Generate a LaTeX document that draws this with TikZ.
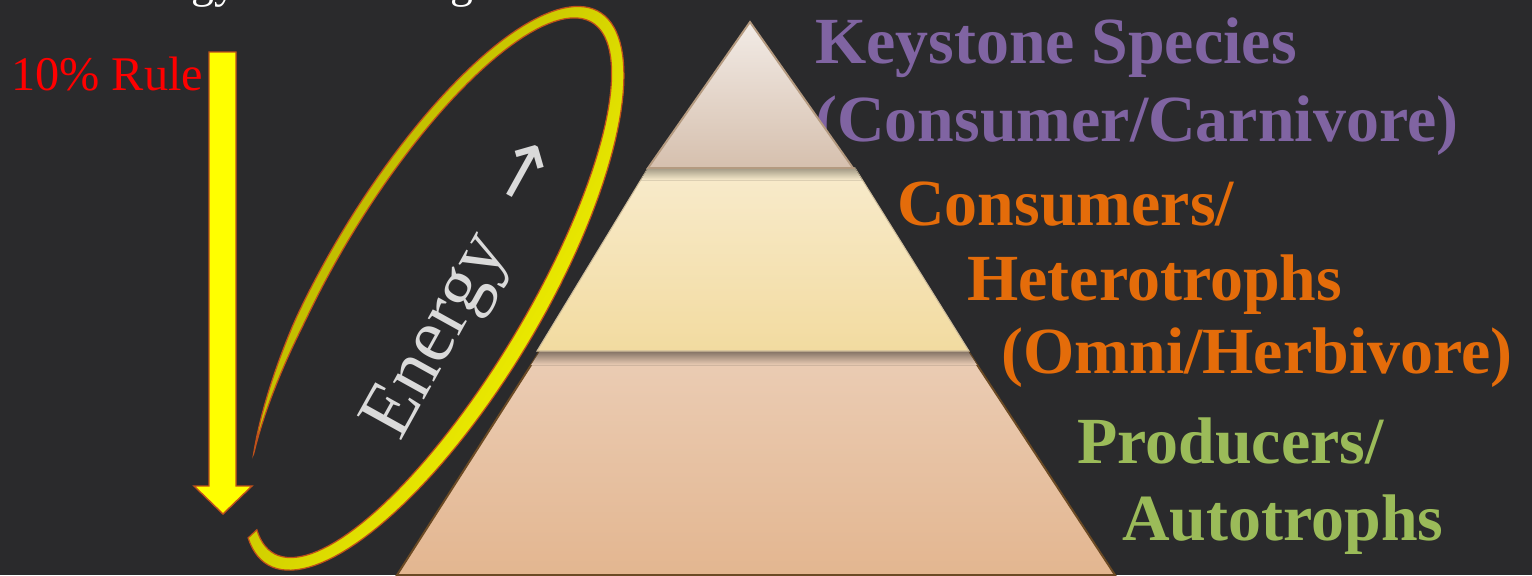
\documentclass[tikz,border=0pt]{standalone}
\usepackage{fontspec}
\setmainfont{Liberation Serif}
\newfontfamily\arrowfont{DejaVu Sans}
\definecolor{slatebg}{RGB}{42,42,44}
\definecolor{keypurple}{HTML}{8064A2}
\definecolor{heteroorange}{HTML}{E46C0A}
\definecolor{autogreen}{HTML}{9BBB59}
\definecolor{ruleedge}{HTML}{C0501A}
\definecolor{ringolive}{HTML}{ACA800}
\definecolor{ringyellow}{HTML}{FFFF00}
\definecolor{energygray}{HTML}{DADADA}
\tikzset{
  levelname/.style={anchor=base west, inner sep=0pt, font=\fontsize{37.5}{40}\selectfont\bfseries},
  keyname/.style={levelname, text=keypurple},
  heteroname/.style={levelname, text=heteroorange},
  autoname/.style={levelname, text=autogreen},
  toptier/.style={draw=tiertan, line width=1.1pt, top color=tiertopA, bottom color=tiertopB},
  midtier/.style={draw=tiermidedge, line width=0.6pt, top color=tiermidA, bottom color=tiermidB},
  basetier/.style={draw=tierbaseedge, line width=1.1pt, top color=tierbaseA, bottom color=tierbaseB},
  rulearrow/.style={fill=ringyellow, draw=ruleedge, line width=0.8pt, line join=miter},
  energyring/.style={top color=ringolive, bottom color=ringyellow, shading angle=59, draw=ruleedge, line width=0.7pt}
}
\definecolor{tiertan}{HTML}{B49A80}
\definecolor{tiertopA}{HTML}{F2EBE6}
\definecolor{tiertopB}{HTML}{D6C0AE}
\definecolor{tiermidedge}{HTML}{CDBB9A}
\definecolor{tiermidA}{HTML}{F8EBCC}
\definecolor{tiermidB}{HTML}{F2DBA0}
\definecolor{tierbaseedge}{HTML}{6B4A24}
\definecolor{tierbaseA}{HTML}{EBCDB5}
\definecolor{tierbaseB}{HTML}{E3B690}
\begin{document}
\begin{tikzpicture}[x=0.02cm,y=-0.02cm,
  declare function={ringw(\x)=(6.4+1.6*sin(\x))*min(1,(\x-222)/30);
    ringx(\x,\y)=433+0.515*(316+\y)*cos(\x)+0.857*(102+\y)*sin(\x);
    ringy(\x,\y)=288-0.857*(316+\y)*cos(\x)+0.515*(102+\y)*sin(\x);}]
  \useasboundingbox (0,0) rectangle (1532,575);
  \fill[slatebg] (0,0) rectangle (1532,575);
  \clip (0,0) rectangle (1532,575);
  \node[anchor=base west, inner sep=0pt, text=white, font=\fontsize{26}{28}\selectfont] (title) at (106,-3) {Energy Flow through};
  \node[anchor=base west, inner sep=0pt, text=red, font=\fontsize{27.5}{30}\selectfont] (rule) at (11,90) {10\% Rule};
  \draw[rulearrow] (209,52) -- (236,52) -- (236,486) -- (252,486) -- (223,514) -- (194,486) -- (209,486) -- cycle;
  \node[keyname] (key1) at (815,63) {Keystone Species};
  \node[keyname] (key2) at (815,141) {(Consumer/Carnivore)};
  \node[heteroname] (het1) at (897,225) {Consumers/};
  \node[heteroname] (het2) at (967,300) {Heterotrophs};
  \node[heteroname] (het3) at (1001,373) {(Omni/Herbivore)};
  \node[autoname] (auto1) at (1077,463) {Producers/};
  \node[autoname] (auto2) at (1122,540) {Autotrophs};
  \draw[basetier] (540,351) -- (968,351) -- (1115,575) -- (397,575) -- cycle;
  \fill[top color=black!45!tierbaseA, bottom color=tierbaseA] (540,351) -- (968,351) -- (977,365) -- (531,365) -- cycle;
  \draw[midtier] (648,168) -- (855,168) -- (969,351) -- (537,351) -- cycle;
  \fill[top color=black!35!tiermidA, bottom color=tiermidA] (648,168) -- (855,168) -- (862,180) -- (641,180) -- cycle;
  \draw[toptier] (750,22) -- (853,168) -- (648,168) -- cycle;
  \filldraw[energyring] plot[domain=222:556, samples=140] ({ringx(\x,ringw(\x))},{ringy(\x,ringw(\x))})
    -- plot[domain=556:222, samples=140] ({ringx(\x,-ringw(\x))},{ringy(\x,-ringw(\x))}) -- cycle;
  \node[anchor=base west, inner sep=0pt, rotate=61, text=energygray, font=\fontsize{44}{48}\selectfont] (energy) at (400,443) {Energy\hspace{0.55em}{\arrowfont →}};
\end{tikzpicture}
\end{document}
